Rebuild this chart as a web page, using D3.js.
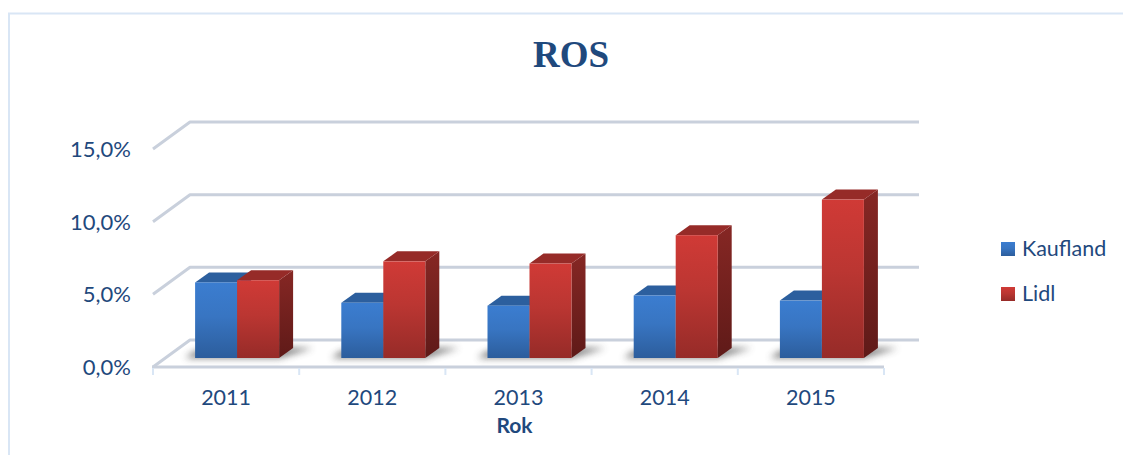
<!DOCTYPE html>
<html><head><meta charset="utf-8"><script src="https://d3js.org/d3.v7.min.js"></script>
<style>html,body{margin:0;padding:0;background:#fff}svg{display:block}</style></head>
<body><svg id="c" width="1123" height="455"></svg>
<script>
const categories = ["2011","2012","2013","2014","2015"];
const seriesNames = ["Kaufland","Lidl"];
const kaufland = [5.2,3.8,3.6,4.3,3.95];
const lidl = [5.35,6.65,6.5,8.45,10.9];
const yTicks = [0,5,10,15];
const titleText = "ROS";
const xTitle = "Rok";

const svg = d3.select("#c");
const defs = svg.append("defs");
const navy = "#1f497d";
function grad(id, stops){
  const g = defs.append("linearGradient").attr("id",id).attr("x1",0).attr("y1",0).attr("x2",0).attr("y2",1);
  stops.forEach(([o,c])=>g.append("stop").attr("offset",o).attr("stop-color",c));
}
grad("bf",[[0,"#3b7dd0"],[0.45,"#3875c2"],[1,"#2c5d9c"]]);
grad("rf",[[0,"#d03a36"],[0.45,"#bb3632"],[1,"#962b28"]]);
grad("rs",[[0,"#862724"],[1,"#5f1a18"]]);
defs.append("filter").attr("id","blur").attr("x","-30%").attr("y","-150%").attr("width","160%").attr("height","400%")
  .append("feGaussianBlur").attr("stdDeviation",3.5);

const x = d3.scaleBand().domain(categories).range([153,884]);
const y = d3.scaleLinear().domain([0,15]).range([367,149]);
const depth = {dx:37, dy:-27};
const barFront = {dx:11, dy:-9};
const side = {dx:14, dy:-10};
const barW = 42;

// frame
svg.append("path").attr("d","M9,455V13.5H1123").attr("fill","none").attr("stroke","#d9e6f5").attr("stroke-width",2);

// gridlines
const gridColor = "#c9d0dc";
yTicks.forEach(t=>{
  const y0 = y(t);
  const line = d3.line()([[153,y0],[153+depth.dx,y0+depth.dy],[919,y0+depth.dy]]);
  svg.append("path").attr("d",line).attr("fill","none").attr("stroke",gridColor).attr("stroke-width",3).attr("stroke-linejoin","round");
});
// floor front line & ticks
svg.append("line").attr("x1",152).attr("x2",884).attr("y1",367).attr("y2",367).attr("stroke",gridColor).attr("stroke-width",3);
const tickPos = categories.map(c=>x(c)).concat([x.range()[1]]);
svg.selectAll(".tk").data(tickPos).join("line").attr("class","tk")
  .attr("x1",d=>d).attr("x2",d=>d).attr("y1",368).attr("y2",375).attr("stroke","#d9e6f5").attr("stroke-width",2);

// y labels
svg.selectAll(".yl").data(yTicks).join("text").attr("class","yl")
  .attr("x",131).attr("y",d=>y(d)+8).attr("text-anchor","end")
  .attr("font-family","Lato").attr("font-size",22).attr("fill",navy)
  .text(d=>d3.format(".1f")(d).replace(".",",")+"%");
// x labels
svg.selectAll(".xl").data(categories).join("text").attr("class","xl")
  .attr("x",d=>x(d)+x.bandwidth()/2).attr("y",405).attr("text-anchor","middle")
  .attr("font-family","Lato").attr("font-size",21.5).attr("fill",navy).text(d=>d);
svg.append("text").attr("x",514.5).attr("y",433).attr("text-anchor","middle")
  .attr("font-family","Lato").attr("font-weight",700).attr("font-size",21).attr("fill",navy).text(xTitle);

// title
svg.append("text").attr("x",571).attr("y",67).attr("text-anchor","middle")
  .attr("font-family","Liberation Serif").attr("font-weight",700).attr("font-size",37).attr("fill",navy).text(titleText);

// bars
const unit = y(0)-y(1);
categories.forEach((c,i)=>{
  const cx = x(c)+x.bandwidth()/2+barFront.dx;
  const base = y(0)+barFront.dy;
  // shadow
  const sx0 = cx-barW-10, sx1 = cx+barW+side.dx+20;
  svg.append("path").attr("d",d3.line()([[sx0,base],[cx+barW,base],[sx1,base-10],[cx+barW+side.dx,base-10],[cx-barW,base-7]]))
    .attr("fill","#444").attr("opacity",.7).attr("filter","url(#blur)");
  [[kaufland[i],cx-barW,"url(#bf)","#2c5f9e","#2a5a96"],[lidl[i],cx,"url(#rf)","#962b28","url(#rs)"]].forEach(([v,bx,face,top,sd])=>{
    const h = v*unit, ty = base-h;
    svg.append("path").attr("d",d3.line()([[bx+barW,base],[bx+barW+side.dx,base+side.dy],[bx+barW+side.dx,ty+side.dy],[bx+barW,ty]])).attr("fill",sd);
    svg.append("path").attr("d",d3.line()([[bx,ty],[bx+side.dx,ty+side.dy],[bx+barW+side.dx,ty+side.dy],[bx+barW,ty]])).attr("fill",top);
    svg.append("rect").attr("x",bx).attr("y",ty).attr("width",barW).attr("height",h).attr("fill",face);
  });
});

// legend
seriesNames.forEach((n,i)=>{
  const ly = 242+i*45;
  svg.append("rect").attr("x",1001).attr("y",ly).attr("width",14).attr("height",14).attr("fill",i?"url(#rf)":"url(#bf)");
  svg.append("text").attr("x",1022).attr("y",ly+14).attr("font-family","Lato").attr("font-size",21.5).attr("fill",navy).text(n);
});
</script></body></html>
